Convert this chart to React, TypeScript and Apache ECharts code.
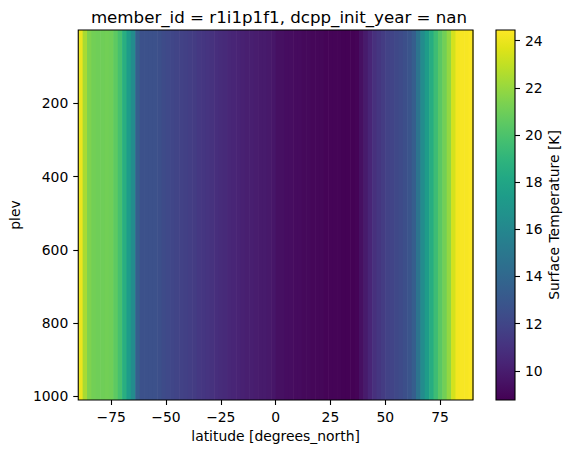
import React, { useEffect, useRef } from "react";
import * as echarts from "echarts";

// latitude cell centres [degrees_north] (2-degree cells)
const latitudes = [
  -89, -87, -85, -83, -81, -79, -77, -75, -73, -71, -69, -67, -65, -63, -61,
  -59, -57, -55, -53, -51, -49, -47, -45, -43, -41, -39, -37, -35, -33, -31,
  -29, -27, -25, -23, -21, -19, -17, -15, -13, -11, -9, -7, -5, -3, -1,
  1, 3, 5, 7, 9, 11, 13, 15, 17, 19, 21, 23, 25, 27, 29,
  31, 33, 35, 37, 39, 41, 43, 45, 47, 49, 51, 53, 55, 57, 59,
  61, 63, 65, 67, 69, 71, 73, 75, 77, 79, 81, 83, 85, 87, 89,
];
const latStep = 2;

// Surface temperature [K] per latitude cell (constant over plev)
const temperature = [
  24.0, 22.4, 21.4, 21.1, 21.0, 21.0, 21.1, 21.0, 20.5, 19.8, 18.6, 17.4, 16.3, 13.4, 12.6,
  12.6, 12.6, 12.6, 12.5, 12.3, 12.2, 12.0, 11.9, 11.8, 11.7, 11.6, 11.5, 11.3, 11.2, 11.1,
  11.0, 10.8, 10.7, 10.6, 10.5, 10.4, 10.3, 10.2, 10.1, 10.1, 10.0, 9.9, 9.9, 9.8, 9.7,
  9.4, 9.4, 9.3, 9.3, 9.2, 9.2, 9.1, 9.1, 9.0, 9.0, 9.0, 8.9, 8.9, 8.9, 8.9,
  8.8, 8.8, 8.8, 8.9, 9.4, 9.9, 10.4, 10.9, 11.2, 11.5, 11.8, 11.9, 12.1, 12.3, 12.5,
  12.8, 13.4, 14.8, 16.3, 17.4, 18.5, 19.5, 20.4, 21.1, 21.9, 23.4, 24.2, 24.3, 24.3, 24.4,
];

const latRange = [-90, 90];
const plevRange = [0, 1010];
const colorRange = [8.76, 24.45];

const latTicks = [-75, -50, -25, 0, 25, 50, 75];
const plevTicks = [200, 400, 600, 800, 1000];
const colorTicks = [10, 12, 14, 16, 18, 20, 22, 24];

const viridis = [
  "#440154", "#471365", "#482475", "#463480", "#414487", "#3b528b", "#355f8d",
  "#2f6c8e", "#2a788e", "#25848e", "#21918c", "#1e9c89", "#22a884", "#2fb47c",
  "#44bf70", "#5ec962", "#7ad151", "#9bd93c", "#bddf26", "#dfe318", "#fde725",
];

const FONT = "DejaVu Sans";
const TICK_FS = 13.9;

export default function App() {
  const ref = useRef<HTMLDivElement>(null);

  useEffect(() => {
    document.body.style.margin = "0";
    const chart = echarts.init(ref.current as HTMLDivElement, null, { renderer: "svg" });
    const minus = (v: number) => String(v).replace("-", "\u2212");
    const plain = (v: number) => String(v);
    const tickLine = { color: "#000", width: 1.1 };
    const labelStyle = { color: "#000", fontSize: TICK_FS, fontFamily: FONT };
    const nameStyle = { color: "#000", fontSize: TICK_FS, fontFamily: FONT };

    chart.setOption({
      animation: false,
      backgroundColor: "#ffffff",
      textStyle: { fontFamily: FONT },
      title: {
        text: "member_id = r1i1p1f1, dcpp_init_year = nan",
        left: 274,
        top: 4,
        textAlign: "center",
        textStyle: { fontFamily: FONT, fontSize: 16.67, fontWeight: "normal", color: "#000" },
      },
      grid: [
        {
          left: 75, top: 30, width: 398, height: 370,
          show: true, z: 10, backgroundColor: "transparent",
          borderColor: "#000", borderWidth: 1.1, containLabel: false,
        },
        {
          left: 496, top: 30, width: 19, height: 370,
          show: true, z: 10, backgroundColor: "transparent",
          borderColor: "#000", borderWidth: 1.1, containLabel: false,
        },
      ],
      xAxis: [
        {
          type: "value", gridIndex: 0, min: latRange[0], max: latRange[1],
          name: "latitude [degrees_north]", nameLocation: "middle", nameGap: 29,
          nameTextStyle: nameStyle,
          axisLine: { show: false, onZero: false },
          axisTick: { show: true, length: 5, customValues: latTicks, lineStyle: tickLine },
          axisLabel: { customValues: latTicks, margin: 10, formatter: minus, ...labelStyle },
          splitLine: { show: false },
        },
        { type: "value", gridIndex: 1, min: 0, max: 1, show: false },
      ],
      yAxis: [
        {
          type: "value", gridIndex: 0, inverse: true, min: plevRange[0], max: plevRange[1],
          name: "plev", nameLocation: "middle", nameGap: 53, nameRotate: 90,
          nameTextStyle: nameStyle,
          axisLine: { show: false, onZero: false },
          axisTick: { show: true, length: 5, customValues: plevTicks, lineStyle: tickLine },
          axisLabel: { customValues: plevTicks, margin: 10, formatter: plain, ...labelStyle },
          splitLine: { show: false },
        },
        {
          type: "value", gridIndex: 1, position: "right", min: colorRange[0], max: colorRange[1],
          name: "Surface Temperature [K]", nameLocation: "middle", nameGap: 31, nameRotate: 90,
          nameTextStyle: nameStyle,
          axisLine: { show: false, onZero: false },
          axisTick: { show: true, length: 5, customValues: colorTicks, lineStyle: tickLine },
          axisLabel: { customValues: colorTicks, margin: 10, formatter: plain, ...labelStyle },
          splitLine: { show: false },
        },
      ],
      visualMap: {
        show: false,
        type: "continuous",
        min: colorRange[0],
        max: colorRange[1],
        dimension: 1,
        seriesIndex: 0,
        inRange: { color: viridis },
      },
      series: [
        {
          type: "custom",
          xAxisIndex: 0,
          yAxisIndex: 0,
          clip: true,
          data: latitudes.map((lat, i) => [lat, temperature[i]]),
          renderItem: (_params: any, api: any) => {
            const lat = api.value(0);
            const p0 = api.coord([lat - latStep / 2, plevRange[0]]);
            const p1 = api.coord([lat + latStep / 2, plevRange[1]]);
            const color = api.visual("color");
            return {
              type: "rect",
              shape: { x: p0[0], y: p0[1], width: p1[0] - p0[0] + 0.6, height: p1[1] - p0[1] },
              style: { fill: color, stroke: null },
            };
          },
        },
        {
          type: "custom",
          xAxisIndex: 1,
          yAxisIndex: 1,
          data: [[0, colorRange[0], colorRange[1]]],
          renderItem: (_params: any, api: any) => {
            const top = api.coord([0, api.value(2)]);
            const bottom = api.coord([1, api.value(1)]);
            return {
              type: "rect",
              shape: { x: top[0], y: top[1], width: bottom[0] - top[0], height: bottom[1] - top[1] },
              style: {
                fill: new echarts.graphic.LinearGradient(
                  0, 1, 0, 0,
                  viridis.map((c, i) => ({ offset: i / (viridis.length - 1), color: c }))
                ),
              },
            };
          },
        },
      ],
    });
    return () => chart.dispose();
  }, []);

  return <div ref={ref} style={{ width: 571, height: 453 }} />;
}
